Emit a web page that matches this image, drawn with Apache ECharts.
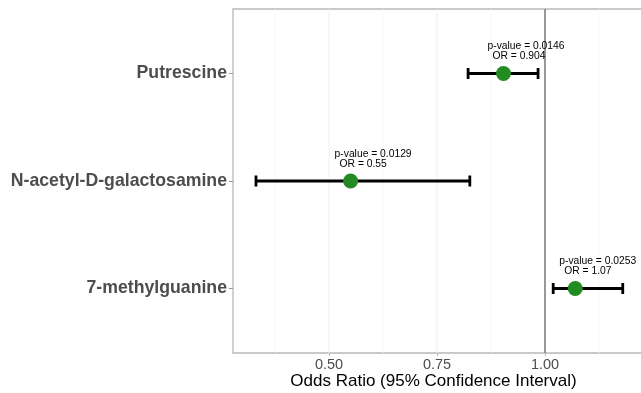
<!DOCTYPE html>
<html>
<head>
<meta charset="utf-8">
<script src="https://cdn.jsdelivr.net/npm/echarts@6/dist/echarts.min.js"></script>
<style>
html,body{margin:0;padding:0;background:#fff;overflow:hidden;width:641px;height:393px;}
#chart{width:660px;height:393px;}
</style>
</head>
<body>
<div id="chart"></div>
<script>
const categories = ['Putrescine', 'N-acetyl-D-galactosamine', '7-methylguanine'];
const orValues = [0.904, 0.55, 1.07];
const ciLower = [0.822, 0.331, 1.019];
const ciUpper = [0.984, 0.826, 1.180];
const pValues = ['0.0146', '0.0129', '0.0253'];
const orLabels = ['0.904', '0.55', '1.07'];
const majorTicks = [0.5, 0.75, 1.0];
const minorTicks = [0.375, 0.625, 0.875, 1.125];
const refLine = 1.0;
const xAxisTitle = 'Odds Ratio (95% Confidence Interval)';

const FONT = '"Liberation Sans", Arial, Helvetica, sans-serif';
const chart = echarts.init(document.getElementById('chart'), null, {renderer: 'canvas'});

const pos = categories.map((c, i) => i + 1);

const option = {
  animation: false,
  backgroundColor: '#fff',
  grid: {
    left: 233, top: 9, right: 9, bottom: 40,
    show: true, borderColor: '#b8b8b8', borderWidth: 1.3, backgroundColor: 'transparent'
  },
  xAxis: {
    type: 'value',
    min: 0.2778, max: 1.2454,
    axisLine: {show: false},
    splitLine: {show: false},
    axisTick: {show: true, customValues: majorTicks, length: 3, lineStyle: {color: '#b8b8b8'}},
    axisLabel: {
      customValues: majorTicks,
      formatter: v => v.toFixed(2),
      color: '#4d4d4d', fontSize: 14.5, fontFamily: FONT, margin: 4
    }
  },
  yAxis: {
    type: 'value',
    min: 0.4, max: 3.6, inverse: true,
    axisLine: {show: false},
    splitLine: {show: false},
    axisTick: {show: true, customValues: pos, length: 4, lineStyle: {color: '#999'}},
    axisLabel: {
      customValues: pos,
      formatter: v => categories[Math.round(v) - 1] || '',
      color: '#4d4d4d', fontSize: 17.7, fontWeight: 'bold', fontFamily: FONT, margin: 6
    }
  },
  graphic: [{
    type: 'text', x: 433.5, y: 381,
    style: {text: xAxisTitle, font: '17px ' + FONT, fill: '#000', textAlign: 'center', textVerticalAlign: 'middle'}
  }],
  series: [
    {
      type: 'custom', silent: true, z: 1,
      data: majorTicks.map(v => [v, 1]).concat(minorTicks.map(v => [v, 0])),
      renderItem: function (params, api) {
        const x = api.coord([api.value(0), 0.4])[0];
        const top = api.coord([api.value(0), 0.4])[1];
        const bot = api.coord([api.value(0), 3.6])[1];
        const major = api.value(1) === 1;
        return {type: 'line', shape: {x1: x, y1: top, x2: x, y2: bot},
          style: {stroke: major ? '#efefef' : '#f6f6f6', lineWidth: major ? 1 : 0.8}};
      }
    },
    {
      type: 'custom', silent: true, z: 2,
      data: [[refLine]],
      renderItem: function (params, api) {
        const x = api.coord([api.value(0), 0.4])[0];
        const top = api.coord([api.value(0), 0.4])[1];
        const bot = api.coord([api.value(0), 3.6])[1];
        return {type: 'line', shape: {x1: x, y1: top, x2: x, y2: bot},
          style: {stroke: '#808080', lineWidth: 1.6}};
      }
    },
    {
      type: 'custom', silent: true, z: 3,
      data: pos.map((p, i) => [p, ciLower[i], ciUpper[i]]),
      renderItem: function (params, api) {
        const y = api.value(0);
        const a = api.coord([api.value(1), y]);
        const b = api.coord([api.value(2), y]);
        const h = 5.5;
        const st = {stroke: '#000', lineWidth: 2.8};
        return {type: 'group', children: [
          {type: 'line', shape: {x1: a[0], y1: a[1], x2: b[0], y2: b[1]}, style: st},
          {type: 'line', shape: {x1: a[0], y1: a[1] - h, x2: a[0], y2: a[1] + h}, style: st},
          {type: 'line', shape: {x1: b[0], y1: b[1] - h, x2: b[0], y2: b[1] + h}, style: st}
        ]};
      }
    },
    {
      type: 'scatter', z: 4,
      symbol: 'circle', symbolSize: 15,
      itemStyle: {color: '#228B22', opacity: 1},
      data: pos.map((p, i) => [orValues[i], p])
    },
    {
      type: 'custom', silent: true, z: 5,
      data: pos.map((p, i) => [orValues[i], p, i]),
      renderItem: function (params, api) {
        const c = api.coord([api.value(0), api.value(1)]);
        const i = api.value(2);
        const f = '10.3px ' + FONT;
        return {type: 'group', children: [
          {type: 'text', x: c[0] - 16, y: c[1] - 27,
            style: {text: 'p-value = ' + pValues[i], font: f, fill: '#000', textAlign: 'left', textVerticalAlign: 'middle'}},
          {type: 'text', x: c[0] - 11, y: c[1] - 17,
            style: {text: 'OR = ' + orLabels[i], font: f, fill: '#000', textAlign: 'left', textVerticalAlign: 'middle'}}
        ]};
      }
    }
  ]
};
chart.setOption(option);
</script>
</body>
</html>
